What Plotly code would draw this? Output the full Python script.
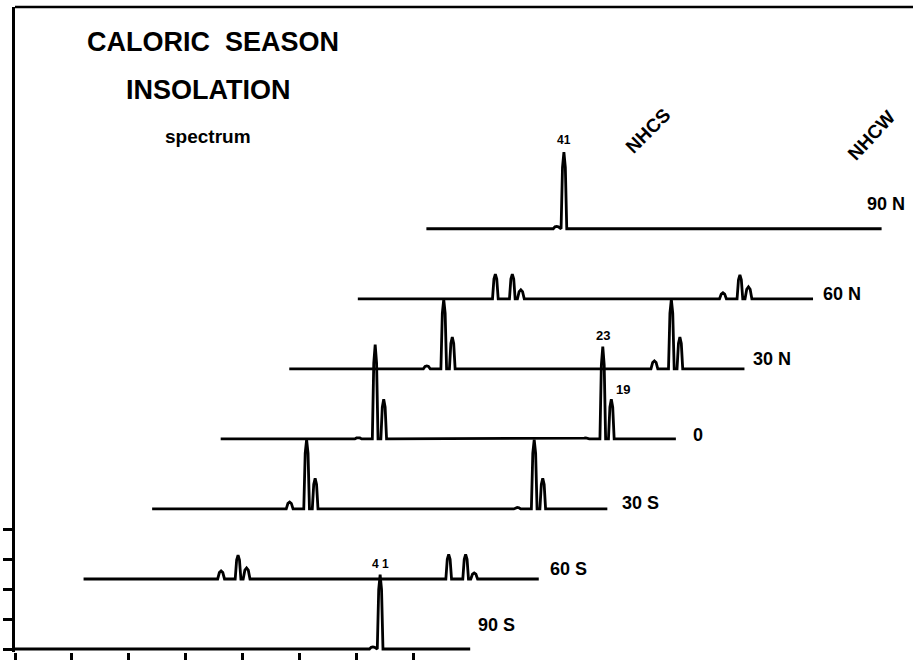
import plotly.graph_objects as go

# ---------------- data ----------------
latitudes = ["90 S", "60 S", "30 S", "0", "30 N", "60 N", "90 N"]   # bottom -> top
periods = ["41", "23", "19"]
# peak positions inside one spectrum panel (x units, panel = 8 units: NHCS half 0-4, NHCW half 4-8)
nhcs_pos = [2.417, 2.715, 2.865]
nhcw_pos = [6.417, 6.715, 6.865]
shoulder_pos_nhcs = 2.29
shoulder_pos_nhcw = 6.29
# spectral power (y units) for each latitude, bottom -> top
nhcs_41 = [0.00, 0.27, 0.23, 0.04, 0.10, 0.83, 2.57]
nhcs_23 = [0.00, 0.80, 2.33, 3.17, 2.33, 0.83, 0.00]
nhcs_19 = [0.00, 0.37, 1.03, 1.33, 1.07, 0.30, 0.00]
nhcw_41 = [2.50, 0.83, 0.05, 0.03, 0.27, 0.20, 0.00]
nhcw_23 = [0.00, 0.83, 2.33, 3.10, 2.33, 0.80, 0.00]
nhcw_19 = [0.00, 0.20, 1.03, 1.33, 1.07, 0.40, 0.00]
shoulder_nhcs = [0.00, 0.00, 0.00, 0.00, 0.00, 0.00, 0.08]
shoulder_nhcw = [0.07, 0.00, 0.00, 0.00, 0.00, 0.00, 0.00]
x_ticks = [0, 1, 2, 3, 4, 5, 6, 7]
y_ticks = [0, 1, 2, 3, 4]

# ---------------- layout geometry ----------------
W, H = 913, 660
ML, MR, MT, MB = 15, 0, 7, 3
PXX, PXY = 56.9, 30.0           # pixels per axis unit
Y0 = -0.1
x_range = [0, (W - ML - MR) / PXX]
y_range = [Y0, Y0 + (H - MT - MB) / PXY]
ROW_DX, ROW_DY, ROW_LEN = 1.205, 2.353, 8.0
HALF_W = 0.05                    # half base width of a peak (style)
LW = 2.8
FONT = "Liberation Sans, Arial, sans-serif"


def peak_points(p, h):
    w = HALF_W if h > 0.5 else 0.06
    return [(p - w, 0.0), (p - 0.5 * w, 0.8 * h), (p, h), (p + 0.5 * w, 0.8 * h), (p + w, 0.0)]


fig = go.Figure()
for k, lat in enumerate(latitudes):
    x0 = k * ROW_DX
    y0 = k * ROW_DY
    peaks = [(shoulder_pos_nhcs, shoulder_nhcs[k]), (shoulder_pos_nhcw, shoulder_nhcw[k])]
    peaks += list(zip(nhcs_pos, [nhcs_41[k], nhcs_23[k], nhcs_19[k]]))
    peaks += list(zip(nhcw_pos, [nhcw_41[k], nhcw_23[k], nhcw_19[k]]))
    peaks = sorted([pk for pk in peaks if pk[1] > 0])
    pts = [(0.0, 0.0)]
    for p, h in peaks:
        pts += peak_points(p, h)
    pts.append((ROW_LEN, 0.0))
    fig.add_trace(go.Scatter(
        x=[x0 + a for a, b in pts], y=[y0 + b for a, b in pts],
        mode="lines", line=dict(color="black", width=LW),
        hoverinfo="skip", showlegend=False, name=lat))

annotations = []
# latitude labels (offsets in px from the row's right end)
lab_off = [(6, 24), (9, 10), (13, 6), (15, 4), (7, 10), (8, 5), (-17, 25)]
for k, lat in enumerate(latitudes):
    dxp, dyp = lab_off[k]
    annotations.append(dict(
        x=k * ROW_DX + ROW_LEN + dxp / PXX, y=k * ROW_DY + dyp / PXY,
        text=f"<b>{lat}</b>", showarrow=False, xanchor="left", yanchor="middle",
        font=dict(family=FONT, size=18, color="black")))

# peak period labels
r90n, r0, r90s = 6, 3, 0
annotations += [
    dict(x=r90n * ROW_DX + nhcs_pos[0], y=r90n * ROW_DY + nhcs_41[r90n] + 12 / PXY,
         text="<b>41</b>", font=dict(family=FONT, size=12, color="black")),
    dict(x=r0 * ROW_DX + nhcw_pos[1], y=r0 * ROW_DY + nhcw_23[r0] + 11 / PXY,
         text="<b>23</b>", font=dict(family=FONT, size=13, color="black")),
    dict(x=r0 * ROW_DX + nhcw_pos[2] + 12 / PXX, y=r0 * ROW_DY + nhcw_19[r0] + 10 / PXY,
         text="<b>19</b>", font=dict(family=FONT, size=13, color="black")),
    dict(x=r90s * ROW_DX + nhcw_pos[0], y=r90s * ROW_DY + nhcw_41[r90s] + 11 / PXY,
         text="<b>4 1</b>", font=dict(family=FONT, size=12, color="black")),
]
for a in annotations[-4:]:
    a.update(showarrow=False, xanchor="center", yanchor="middle")

# column labels above the top panel
annotations += [
    dict(x=r90n * ROW_DX + 3.90, y=r90n * ROW_DY + 3.30, text="<b>NHCS</b>", textangle=-45,
         showarrow=False, font=dict(family=FONT, size=19, color="black")),
    dict(x=r90n * ROW_DX + 7.82, y=r90n * ROW_DY + 3.13, text="<b>NHCW</b>", textangle=-47,
         showarrow=False, font=dict(family=FONT, size=19, color="black")),
]


def pxp(px, py):
    return (px - ML) / (W - ML - MR), (H - MB - py) / (H - MT - MB)


for txt, (px, py), size in [("CALORIC\u00a0\u00a0SEASON", (213, 42), 27),
                            ("INSOLATION", (208, 91), 27),
                            ("spectrum", (208, 138), 19)]:
    xp, yp = pxp(px, py)
    annotations.append(dict(x=xp, y=yp, xref="paper", yref="paper", text=f"<b>{txt}</b>",
                            showarrow=False, xanchor="center", yanchor="middle",
                            font=dict(family=FONT, size=size, color="black")))

fig.update_layout(
    width=W, height=H, margin=dict(l=ML, r=MR, t=MT, b=MB, pad=0),
    paper_bgcolor="white", plot_bgcolor="white", showlegend=False,
    annotations=annotations,
    shapes=[dict(type="line", xref="paper", yref="paper", x0=0, x1=1, y0=1, y1=1,
                 line=dict(color="black", width=2.5))],
    xaxis=dict(range=x_range, showgrid=False, zeroline=False, showline=False,
               tickmode="array", tickvals=x_ticks, ticks="outside", ticklen=8,
               tickwidth=2.5, tickcolor="black", showticklabels=False, fixedrange=True),
    yaxis=dict(range=y_range, showgrid=False, zeroline=False, showline=True,
               linecolor="black", linewidth=3, tickmode="array", tickvals=y_ticks,
               ticks="outside", ticklen=9, tickwidth=2.5, tickcolor="black",
               showticklabels=False, fixedrange=True),
)

fig.write_html("out.html")
